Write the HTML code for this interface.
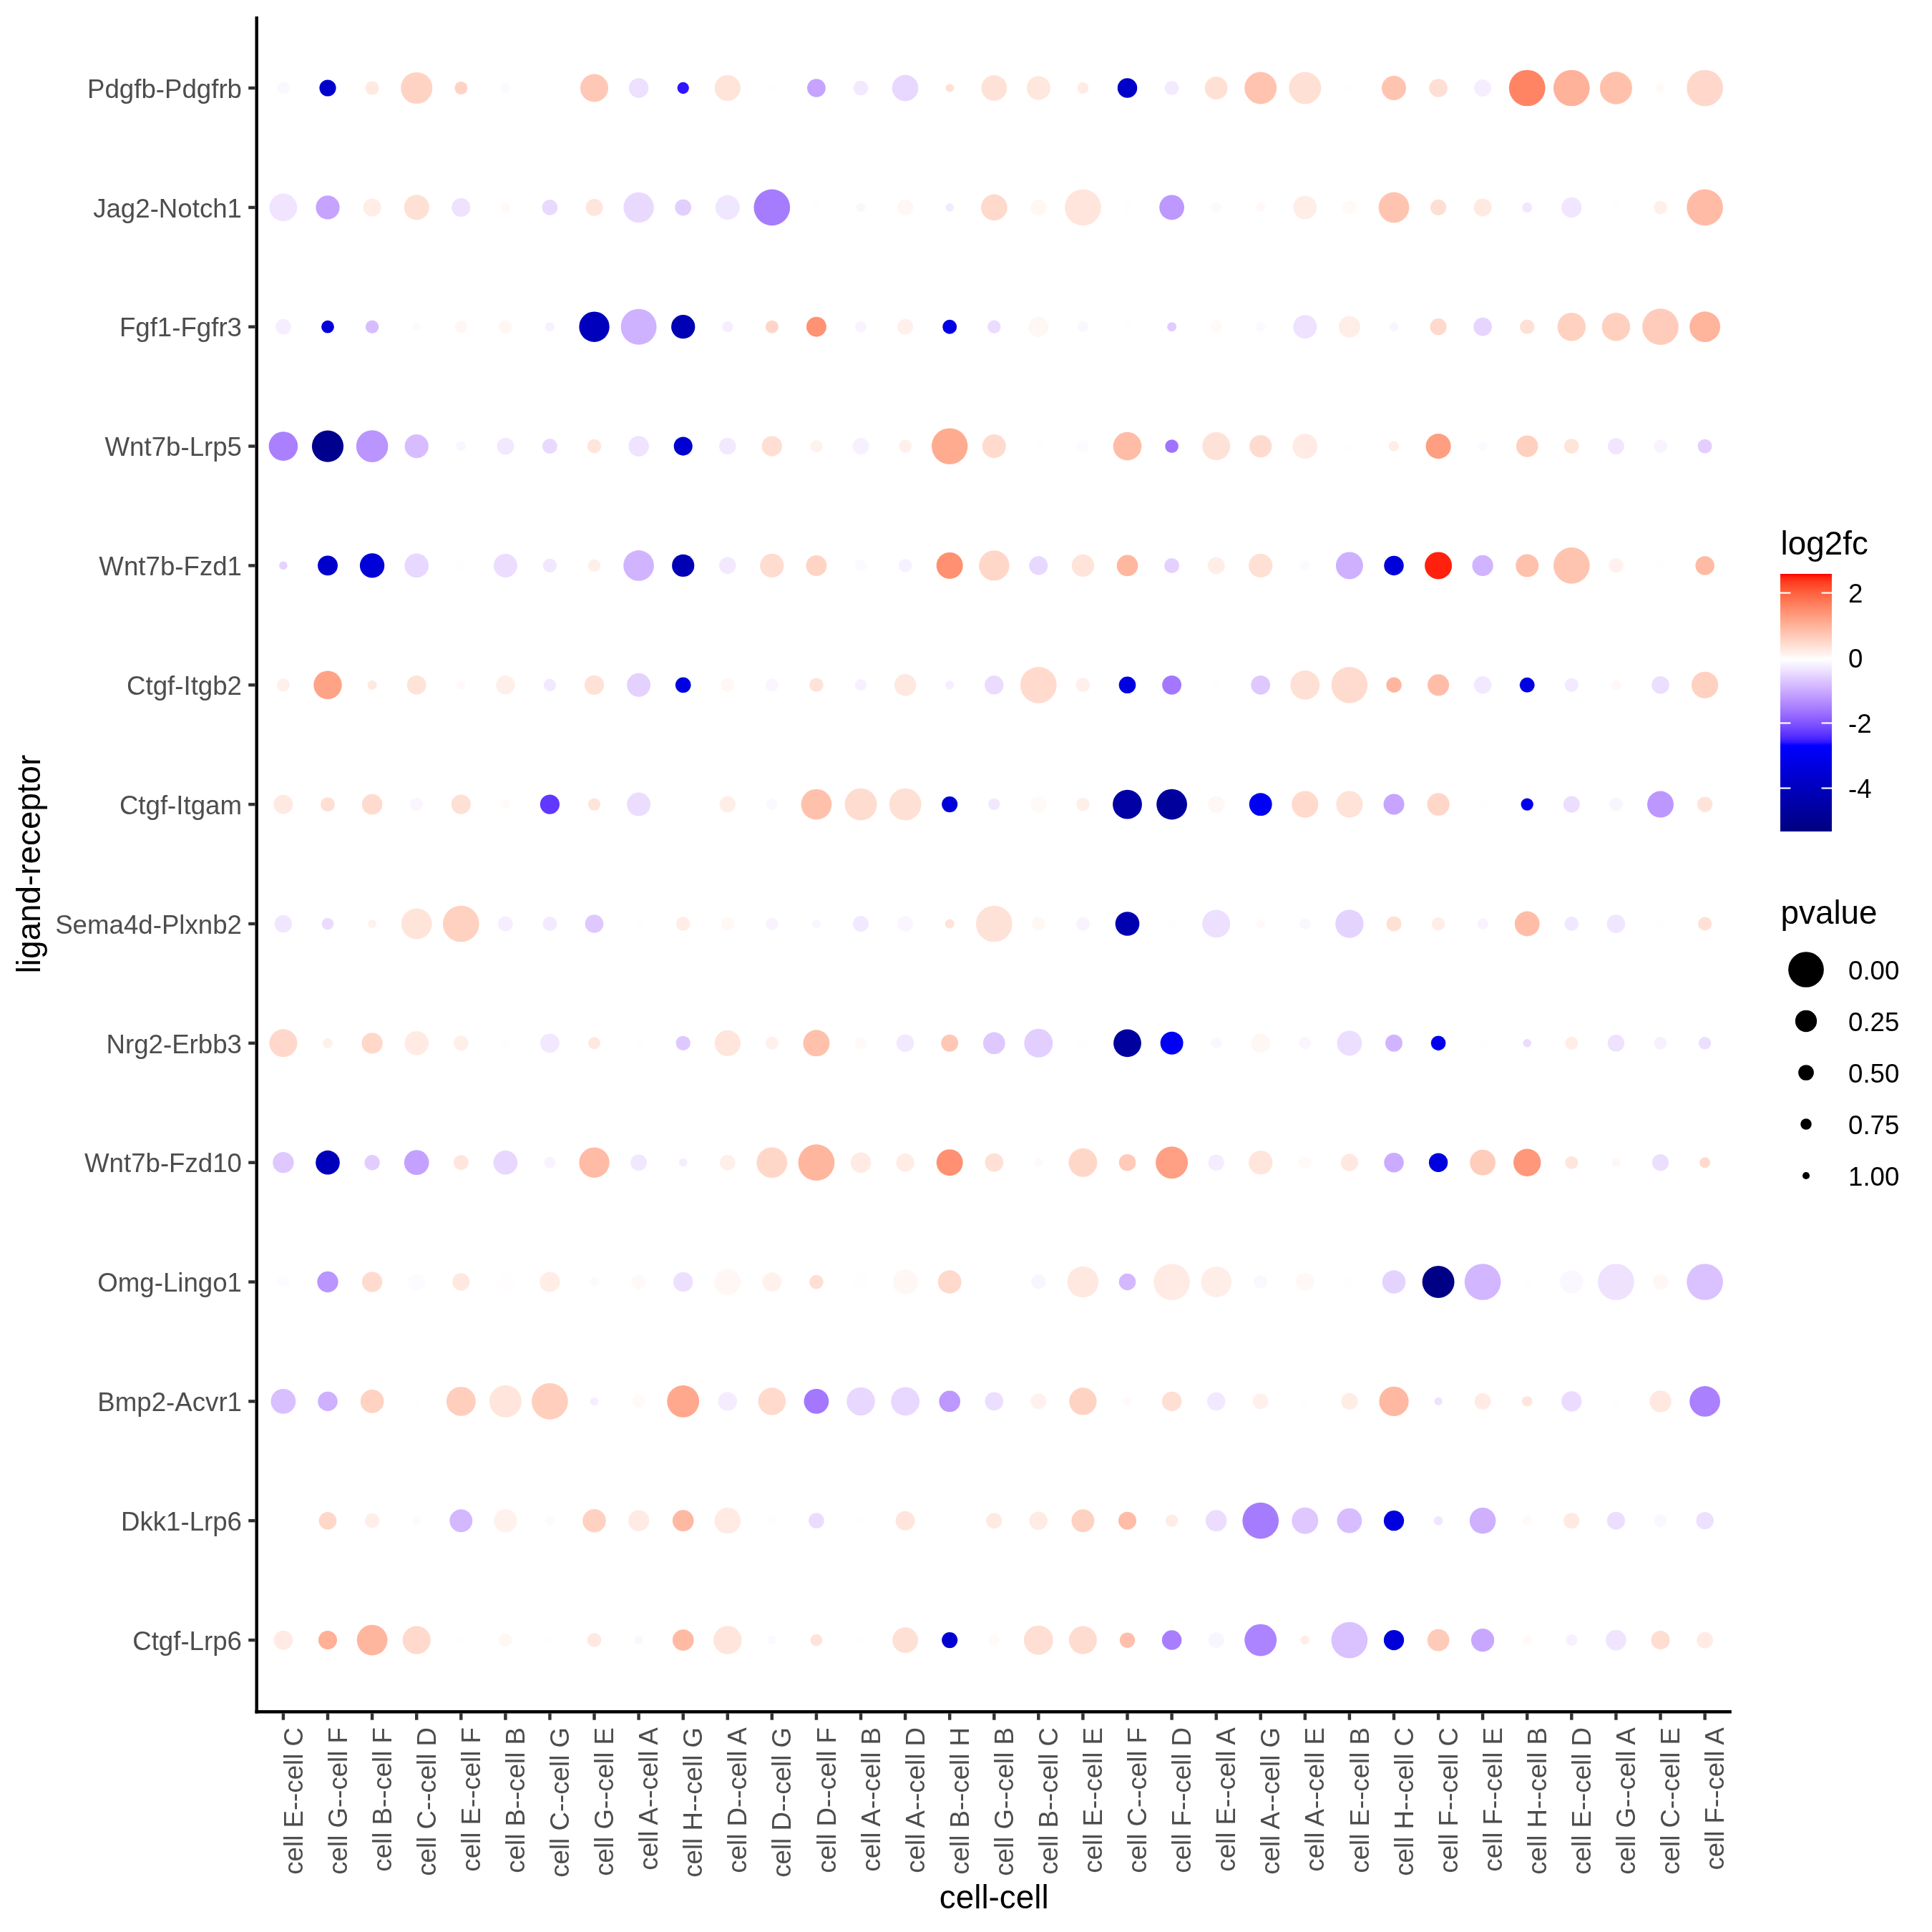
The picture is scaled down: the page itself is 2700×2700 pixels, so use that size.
<!DOCTYPE html>
<html><head><meta charset="utf-8"><title>plot</title><style>html,body{margin:0;padding:0;background:#fff}body{width:2700px;height:2700px;overflow:hidden}</style></head><body>
<svg width="2700" height="2700" viewBox="0 0 2700 2700" style="display:block;will-change:transform;font-family:'Liberation Sans',sans-serif">
<rect width="2700" height="2700" fill="#fff"/>
<g>
<circle cx="395.9" cy="123.0" r="8.70" fill="#FBF7FF"/>
<circle cx="458.0" cy="123.0" r="11.60" fill="#0000CD"/>
<circle cx="520.1" cy="123.0" r="9.60" fill="#FFE9E1"/>
<circle cx="582.2" cy="123.0" r="22.10" fill="#FFD3C4"/>
<circle cx="644.3" cy="123.0" r="9.05" fill="#FFD3C4"/>
<circle cx="706.4" cy="123.0" r="7.45" fill="#FCF9FF"/>
<circle cx="830.5" cy="123.0" r="19.55" fill="#FFC8B6"/>
<circle cx="892.6" cy="123.0" r="13.75" fill="#EDE0FF"/>
<circle cx="954.7" cy="123.0" r="8.15" fill="#2E14FF"/>
<circle cx="1016.8" cy="123.0" r="18.10" fill="#FFE4DA"/>
<circle cx="1078.8" cy="123.0" r="5.45" fill="#FFFDFD"/>
<circle cx="1140.9" cy="123.0" r="12.85" fill="#C5A3FF"/>
<circle cx="1203.0" cy="123.0" r="10.35" fill="#F2E8FF"/>
<circle cx="1265.1" cy="123.0" r="18.30" fill="#E8D7FF"/>
<circle cx="1327.2" cy="123.0" r="5.80" fill="#FFE0D5"/>
<circle cx="1389.3" cy="123.0" r="17.95" fill="#FFE2D7"/>
<circle cx="1451.3" cy="123.0" r="16.50" fill="#FFE7DE"/>
<circle cx="1513.4" cy="123.0" r="7.95" fill="#FFEBE4"/>
<circle cx="1575.5" cy="123.0" r="13.75" fill="#0000C8"/>
<circle cx="1637.6" cy="123.0" r="9.95" fill="#F3EAFF"/>
<circle cx="1699.7" cy="123.0" r="15.95" fill="#FFE0D4"/>
<circle cx="1761.7" cy="123.0" r="22.45" fill="#FFC3AF"/>
<circle cx="1823.8" cy="123.0" r="22.45" fill="#FFE0D4"/>
<circle cx="1885.9" cy="123.0" r="6.70" fill="#FFFEFE"/>
<circle cx="1948.0" cy="123.0" r="17.05" fill="#FFC4B0"/>
<circle cx="2010.1" cy="123.0" r="12.85" fill="#FFDED3"/>
<circle cx="2072.1" cy="123.0" r="11.95" fill="#F6EEFF"/>
<circle cx="2134.2" cy="123.0" r="25.35" fill="#FF8463"/>
<circle cx="2196.3" cy="123.0" r="25.35" fill="#FFB29A"/>
<circle cx="2258.4" cy="123.0" r="22.65" fill="#FFC1AC"/>
<circle cx="2320.5" cy="123.0" r="6.15" fill="#FFFAF8"/>
<circle cx="2382.6" cy="123.0" r="25.35" fill="#FFD8CB"/>
<circle cx="395.9" cy="289.9" r="19.40" fill="#F0E4FF"/>
<circle cx="458.0" cy="289.9" r="16.65" fill="#C5A3FF"/>
<circle cx="520.1" cy="289.9" r="12.50" fill="#FFEDE6"/>
<circle cx="582.2" cy="289.9" r="17.55" fill="#FFE0D4"/>
<circle cx="644.3" cy="289.9" r="13.05" fill="#EEE2FF"/>
<circle cx="706.4" cy="289.9" r="6.35" fill="#FFF8F5"/>
<circle cx="768.4" cy="289.9" r="10.85" fill="#E9D9FF"/>
<circle cx="830.5" cy="289.9" r="11.95" fill="#FFE5DC"/>
<circle cx="892.6" cy="289.9" r="21.20" fill="#E9D9FF"/>
<circle cx="954.7" cy="289.9" r="11.40" fill="#E2CEFF"/>
<circle cx="1016.8" cy="289.9" r="17.05" fill="#F1E6FF"/>
<circle cx="1078.8" cy="289.9" r="25.35" fill="#A67CFF"/>
<circle cx="1140.9" cy="289.9" r="5.80" fill="#FFFDFD"/>
<circle cx="1203.0" cy="289.9" r="6.35" fill="#FBF7FF"/>
<circle cx="1265.1" cy="289.9" r="11.05" fill="#FFF7F4"/>
<circle cx="1327.2" cy="289.9" r="5.80" fill="#F3EAFF"/>
<circle cx="1389.3" cy="289.9" r="18.30" fill="#FFD9CC"/>
<circle cx="1451.3" cy="289.9" r="11.25" fill="#FFF7F4"/>
<circle cx="1513.4" cy="289.9" r="25.35" fill="#FFE5DC"/>
<circle cx="1575.5" cy="289.9" r="7.05" fill="#FEFEFF"/>
<circle cx="1637.6" cy="289.9" r="17.40" fill="#BD98FF"/>
<circle cx="1699.7" cy="289.9" r="7.60" fill="#FFFAF8"/>
<circle cx="1761.7" cy="289.9" r="6.35" fill="#FFF8F5"/>
<circle cx="1823.8" cy="289.9" r="16.50" fill="#FFEEE8"/>
<circle cx="1885.9" cy="289.9" r="9.60" fill="#FFF9F7"/>
<circle cx="1948.0" cy="289.9" r="21.40" fill="#FFC4B0"/>
<circle cx="2010.1" cy="289.9" r="11.05" fill="#FFDED3"/>
<circle cx="2072.1" cy="289.9" r="12.50" fill="#FFE9E1"/>
<circle cx="2134.2" cy="289.9" r="7.05" fill="#F1E7FF"/>
<circle cx="2196.3" cy="289.9" r="14.15" fill="#F1E6FF"/>
<circle cx="2258.4" cy="289.9" r="6.00" fill="#FFFDFD"/>
<circle cx="2320.5" cy="289.9" r="9.40" fill="#FFEFE9"/>
<circle cx="2382.6" cy="289.9" r="25.35" fill="#FFBBA5"/>
<circle cx="395.9" cy="456.7" r="10.85" fill="#F6EEFF"/>
<circle cx="458.0" cy="456.7" r="8.90" fill="#0000DB"/>
<circle cx="520.1" cy="456.7" r="9.25" fill="#D7BDFF"/>
<circle cx="582.2" cy="456.7" r="5.80" fill="#FCF9FF"/>
<circle cx="644.3" cy="456.7" r="8.90" fill="#FFF7F4"/>
<circle cx="706.4" cy="456.7" r="9.60" fill="#FFF7F4"/>
<circle cx="768.4" cy="456.7" r="6.50" fill="#F7F1FF"/>
<circle cx="830.5" cy="456.7" r="21.20" fill="#0000BC"/>
<circle cx="892.6" cy="456.7" r="25.00" fill="#CFB2FF"/>
<circle cx="954.7" cy="456.7" r="16.65" fill="#0000B4"/>
<circle cx="1016.8" cy="456.7" r="7.60" fill="#F6EEFF"/>
<circle cx="1078.8" cy="456.7" r="9.05" fill="#FFD5C7"/>
<circle cx="1140.9" cy="456.7" r="13.95" fill="#FF9273"/>
<circle cx="1203.0" cy="456.7" r="7.80" fill="#F8F3FF"/>
<circle cx="1265.1" cy="456.7" r="11.05" fill="#FFF0EB"/>
<circle cx="1327.2" cy="456.7" r="9.95" fill="#0000E3"/>
<circle cx="1389.3" cy="456.7" r="9.25" fill="#EBDCFF"/>
<circle cx="1451.3" cy="456.7" r="14.15" fill="#FFF7F4"/>
<circle cx="1513.4" cy="456.7" r="7.60" fill="#FBF7FF"/>
<circle cx="1575.5" cy="456.7" r="6.70" fill="#FEFEFF"/>
<circle cx="1637.6" cy="456.7" r="6.50" fill="#E1CCFF"/>
<circle cx="1699.7" cy="456.7" r="8.35" fill="#FFF9F7"/>
<circle cx="1761.7" cy="456.7" r="6.90" fill="#FCF9FF"/>
<circle cx="1823.8" cy="456.7" r="16.50" fill="#EEE2FF"/>
<circle cx="1885.9" cy="456.7" r="15.05" fill="#FFEEE8"/>
<circle cx="1948.0" cy="456.7" r="6.50" fill="#F9F5FF"/>
<circle cx="2010.1" cy="456.7" r="11.60" fill="#FFD9CC"/>
<circle cx="2072.1" cy="456.7" r="12.85" fill="#E7D5FF"/>
<circle cx="2134.2" cy="456.7" r="10.15" fill="#FFE0D5"/>
<circle cx="2196.3" cy="456.7" r="19.75" fill="#FFD1C1"/>
<circle cx="2258.4" cy="456.7" r="19.75" fill="#FFD0BF"/>
<circle cx="2320.5" cy="456.7" r="25.35" fill="#FFCCBB"/>
<circle cx="2382.6" cy="456.7" r="21.40" fill="#FFB49C"/>
<circle cx="395.9" cy="623.6" r="20.30" fill="#AA80FF"/>
<circle cx="458.0" cy="623.6" r="22.10" fill="#00008F"/>
<circle cx="520.1" cy="623.6" r="22.30" fill="#BA94FF"/>
<circle cx="582.2" cy="623.6" r="16.65" fill="#D7BDFF"/>
<circle cx="644.3" cy="623.6" r="6.90" fill="#FAF5FF"/>
<circle cx="706.4" cy="623.6" r="11.95" fill="#F2E8FF"/>
<circle cx="768.4" cy="623.6" r="10.50" fill="#E9D9FF"/>
<circle cx="830.5" cy="623.6" r="9.80" fill="#FFE5DC"/>
<circle cx="892.6" cy="623.6" r="14.30" fill="#EFE3FF"/>
<circle cx="954.7" cy="623.6" r="13.05" fill="#0000D2"/>
<circle cx="1016.8" cy="623.6" r="11.80" fill="#F2E9FF"/>
<circle cx="1078.8" cy="623.6" r="14.15" fill="#FFDED3"/>
<circle cx="1140.9" cy="623.6" r="8.70" fill="#FFF2EE"/>
<circle cx="1203.0" cy="623.6" r="11.60" fill="#F7F1FF"/>
<circle cx="1265.1" cy="623.6" r="9.05" fill="#FFF0EB"/>
<circle cx="1327.2" cy="623.6" r="25.20" fill="#FFAB90"/>
<circle cx="1389.3" cy="623.6" r="16.50" fill="#FFDBCE"/>
<circle cx="1451.3" cy="623.6" r="6.50" fill="#FFFDFD"/>
<circle cx="1513.4" cy="623.6" r="8.70" fill="#FDFBFF"/>
<circle cx="1575.5" cy="623.6" r="19.75" fill="#FFBCA6"/>
<circle cx="1637.6" cy="623.6" r="9.40" fill="#9F73FF"/>
<circle cx="1699.7" cy="623.6" r="19.55" fill="#FFE2D7"/>
<circle cx="1761.7" cy="623.6" r="15.60" fill="#FFDBCF"/>
<circle cx="1823.8" cy="623.6" r="17.40" fill="#FFEBE3"/>
<circle cx="1885.9" cy="623.6" r="6.70" fill="#FFFEFE"/>
<circle cx="1948.0" cy="623.6" r="7.25" fill="#FFEDE6"/>
<circle cx="2010.1" cy="623.6" r="17.55" fill="#FF9E81"/>
<circle cx="2072.1" cy="623.6" r="6.90" fill="#FCF9FF"/>
<circle cx="2134.2" cy="623.6" r="15.20" fill="#FFD0BF"/>
<circle cx="2196.3" cy="623.6" r="10.35" fill="#FFE4DA"/>
<circle cx="2258.4" cy="623.6" r="11.40" fill="#F1E6FF"/>
<circle cx="2320.5" cy="623.6" r="9.40" fill="#F8F3FF"/>
<circle cx="2382.6" cy="623.6" r="9.95" fill="#E2CEFF"/>
<circle cx="395.9" cy="790.4" r="5.80" fill="#E5D3FF"/>
<circle cx="458.0" cy="790.4" r="13.95" fill="#0000CD"/>
<circle cx="520.1" cy="790.4" r="17.20" fill="#0000D9"/>
<circle cx="582.2" cy="790.4" r="16.85" fill="#E8D7FF"/>
<circle cx="644.3" cy="790.4" r="7.05" fill="#FFFDFD"/>
<circle cx="706.4" cy="790.4" r="16.50" fill="#ECDDFF"/>
<circle cx="768.4" cy="790.4" r="9.60" fill="#F1E7FF"/>
<circle cx="830.5" cy="790.4" r="8.70" fill="#FFEFE9"/>
<circle cx="892.6" cy="790.4" r="21.40" fill="#D1B4FF"/>
<circle cx="954.7" cy="790.4" r="15.60" fill="#0000B4"/>
<circle cx="1016.8" cy="790.4" r="11.80" fill="#F2E9FF"/>
<circle cx="1078.8" cy="790.4" r="16.65" fill="#FFDCD0"/>
<circle cx="1140.9" cy="790.4" r="14.50" fill="#FFD4C5"/>
<circle cx="1203.0" cy="790.4" r="8.15" fill="#FCF9FF"/>
<circle cx="1265.1" cy="790.4" r="9.40" fill="#F7F1FF"/>
<circle cx="1327.2" cy="790.4" r="18.50" fill="#FF9071"/>
<circle cx="1389.3" cy="790.4" r="21.20" fill="#FFD7C9"/>
<circle cx="1451.3" cy="790.4" r="13.05" fill="#E8D7FF"/>
<circle cx="1513.4" cy="790.4" r="15.60" fill="#FFE4DA"/>
<circle cx="1575.5" cy="790.4" r="14.85" fill="#FFB7A0"/>
<circle cx="1637.6" cy="790.4" r="10.50" fill="#E4D1FF"/>
<circle cx="1699.7" cy="790.4" r="11.95" fill="#FFEEE8"/>
<circle cx="1761.7" cy="790.4" r="16.65" fill="#FFE0D5"/>
<circle cx="1823.8" cy="790.4" r="7.25" fill="#FCF9FF"/>
<circle cx="1885.9" cy="790.4" r="19.00" fill="#CEB0FF"/>
<circle cx="1948.0" cy="790.4" r="13.75" fill="#0000DB"/>
<circle cx="2010.1" cy="790.4" r="19.00" fill="#FF200D"/>
<circle cx="2072.1" cy="790.4" r="14.65" fill="#D1B4FF"/>
<circle cx="2134.2" cy="790.4" r="15.95" fill="#FFC1AC"/>
<circle cx="2196.3" cy="790.4" r="25.35" fill="#FFC4B0"/>
<circle cx="2258.4" cy="790.4" r="10.35" fill="#FFF2EE"/>
<circle cx="2320.5" cy="790.4" r="6.35" fill="#FEFEFF"/>
<circle cx="2382.6" cy="790.4" r="13.20" fill="#FFBAA3"/>
<circle cx="395.9" cy="957.3" r="9.05" fill="#FFF0EB"/>
<circle cx="458.0" cy="957.3" r="19.75" fill="#FFA387"/>
<circle cx="520.1" cy="957.3" r="6.50" fill="#FFE8DF"/>
<circle cx="582.2" cy="957.3" r="13.40" fill="#FFE3D9"/>
<circle cx="644.3" cy="957.3" r="6.50" fill="#FFF9F7"/>
<circle cx="706.4" cy="957.3" r="13.20" fill="#FFEFE9"/>
<circle cx="768.4" cy="957.3" r="8.70" fill="#F2E8FF"/>
<circle cx="830.5" cy="957.3" r="13.60" fill="#FFE1D6"/>
<circle cx="892.6" cy="957.3" r="16.50" fill="#E4D1FF"/>
<circle cx="954.7" cy="957.3" r="10.85" fill="#0000E0"/>
<circle cx="1016.8" cy="957.3" r="9.60" fill="#FFF7F4"/>
<circle cx="1078.8" cy="957.3" r="9.05" fill="#FAF5FF"/>
<circle cx="1140.9" cy="957.3" r="9.80" fill="#FFE3D8"/>
<circle cx="1203.0" cy="957.3" r="8.15" fill="#F7F1FF"/>
<circle cx="1265.1" cy="957.3" r="15.20" fill="#FFE8DF"/>
<circle cx="1327.2" cy="957.3" r="6.15" fill="#F6EEFF"/>
<circle cx="1389.3" cy="957.3" r="13.20" fill="#EBDCFF"/>
<circle cx="1451.3" cy="957.3" r="25.35" fill="#FFDACD"/>
<circle cx="1513.4" cy="957.3" r="9.95" fill="#FFF0EB"/>
<circle cx="1575.5" cy="957.3" r="11.80" fill="#0000E0"/>
<circle cx="1637.6" cy="957.3" r="13.40" fill="#A378FF"/>
<circle cx="1699.7" cy="957.3" r="7.45" fill="#FFFDFD"/>
<circle cx="1761.7" cy="957.3" r="13.40" fill="#DEC8FF"/>
<circle cx="1823.8" cy="957.3" r="20.45" fill="#FFE0D4"/>
<circle cx="1885.9" cy="957.3" r="25.35" fill="#FFDBCF"/>
<circle cx="1948.0" cy="957.3" r="10.70" fill="#FFB69E"/>
<circle cx="2010.1" cy="957.3" r="15.05" fill="#FFBDA8"/>
<circle cx="2072.1" cy="957.3" r="12.30" fill="#F2E9FF"/>
<circle cx="2134.2" cy="957.3" r="10.50" fill="#0000E0"/>
<circle cx="2196.3" cy="957.3" r="9.60" fill="#F3EAFF"/>
<circle cx="2258.4" cy="957.3" r="6.90" fill="#FFF8F5"/>
<circle cx="2320.5" cy="957.3" r="12.30" fill="#ECDEFF"/>
<circle cx="2382.6" cy="957.3" r="18.65" fill="#FFD1C1"/>
<circle cx="395.9" cy="1124.1" r="13.40" fill="#FFE9E1"/>
<circle cx="458.0" cy="1124.1" r="9.95" fill="#FFDED3"/>
<circle cx="520.1" cy="1124.1" r="14.30" fill="#FFDBCF"/>
<circle cx="582.2" cy="1124.1" r="9.05" fill="#FAF5FF"/>
<circle cx="644.3" cy="1124.1" r="13.60" fill="#FFE0D5"/>
<circle cx="706.4" cy="1124.1" r="6.15" fill="#FFFAF8"/>
<circle cx="768.4" cy="1124.1" r="13.60" fill="#6138FF"/>
<circle cx="830.5" cy="1124.1" r="8.70" fill="#FFE4DA"/>
<circle cx="892.6" cy="1124.1" r="16.50" fill="#ECDDFF"/>
<circle cx="1016.8" cy="1124.1" r="11.25" fill="#FFEEE8"/>
<circle cx="1078.8" cy="1124.1" r="7.60" fill="#FBF7FF"/>
<circle cx="1140.9" cy="1124.1" r="21.40" fill="#FFC1AC"/>
<circle cx="1203.0" cy="1124.1" r="22.45" fill="#FFDCD0"/>
<circle cx="1265.1" cy="1124.1" r="22.45" fill="#FFE0D5"/>
<circle cx="1327.2" cy="1124.1" r="11.05" fill="#0000DB"/>
<circle cx="1389.3" cy="1124.1" r="8.15" fill="#F1E7FF"/>
<circle cx="1451.3" cy="1124.1" r="11.25" fill="#FFFAF8"/>
<circle cx="1513.4" cy="1124.1" r="9.25" fill="#FFEFE9"/>
<circle cx="1575.5" cy="1124.1" r="20.45" fill="#0000A4"/>
<circle cx="1637.6" cy="1124.1" r="21.40" fill="#00009D"/>
<circle cx="1699.7" cy="1124.1" r="11.60" fill="#FFF7F4"/>
<circle cx="1761.7" cy="1124.1" r="15.95" fill="#0000F4"/>
<circle cx="1823.8" cy="1124.1" r="18.65" fill="#FFDACD"/>
<circle cx="1885.9" cy="1124.1" r="18.65" fill="#FFE3D8"/>
<circle cx="1948.0" cy="1124.1" r="14.50" fill="#C6A4FF"/>
<circle cx="2010.1" cy="1124.1" r="15.75" fill="#FFD7C9"/>
<circle cx="2072.1" cy="1124.1" r="6.35" fill="#FFFDFD"/>
<circle cx="2134.2" cy="1124.1" r="8.70" fill="#0000EF"/>
<circle cx="2196.3" cy="1124.1" r="11.60" fill="#ECDEFF"/>
<circle cx="2258.4" cy="1124.1" r="9.40" fill="#F9F5FF"/>
<circle cx="2320.5" cy="1124.1" r="18.50" fill="#BC97FF"/>
<circle cx="2382.6" cy="1124.1" r="10.70" fill="#FFE3D9"/>
<circle cx="395.9" cy="1291.0" r="12.30" fill="#F1E6FF"/>
<circle cx="458.0" cy="1291.0" r="8.35" fill="#EBDCFF"/>
<circle cx="520.1" cy="1291.0" r="6.00" fill="#FFF2ED"/>
<circle cx="582.2" cy="1291.0" r="21.40" fill="#FFE4DA"/>
<circle cx="644.3" cy="1291.0" r="25.35" fill="#FFD1C1"/>
<circle cx="706.4" cy="1291.0" r="10.50" fill="#F6EEFF"/>
<circle cx="768.4" cy="1291.0" r="9.95" fill="#F3EAFF"/>
<circle cx="830.5" cy="1291.0" r="12.85" fill="#DEC8FF"/>
<circle cx="892.6" cy="1291.0" r="6.00" fill="#FFFDFD"/>
<circle cx="954.7" cy="1291.0" r="9.80" fill="#FFEDE6"/>
<circle cx="1016.8" cy="1291.0" r="9.60" fill="#FFF8F5"/>
<circle cx="1078.8" cy="1291.0" r="8.70" fill="#F8F3FF"/>
<circle cx="1140.9" cy="1291.0" r="6.15" fill="#FAF5FF"/>
<circle cx="1203.0" cy="1291.0" r="11.05" fill="#F2E8FF"/>
<circle cx="1265.1" cy="1291.0" r="10.85" fill="#FAF5FF"/>
<circle cx="1327.2" cy="1291.0" r="6.50" fill="#FFE3D8"/>
<circle cx="1389.3" cy="1291.0" r="25.35" fill="#FFE2D7"/>
<circle cx="1451.3" cy="1291.0" r="9.40" fill="#FFF7F4"/>
<circle cx="1513.4" cy="1291.0" r="9.60" fill="#F8F3FF"/>
<circle cx="1575.5" cy="1291.0" r="16.85" fill="#0000B0"/>
<circle cx="1637.6" cy="1291.0" r="6.90" fill="#FFFEFE"/>
<circle cx="1699.7" cy="1291.0" r="19.55" fill="#EDE0FF"/>
<circle cx="1761.7" cy="1291.0" r="6.50" fill="#FFF9F7"/>
<circle cx="1823.8" cy="1291.0" r="7.80" fill="#FBF7FF"/>
<circle cx="1885.9" cy="1291.0" r="19.75" fill="#E5D3FF"/>
<circle cx="1948.0" cy="1291.0" r="10.50" fill="#FFE0D4"/>
<circle cx="2010.1" cy="1291.0" r="9.25" fill="#FFEDE6"/>
<circle cx="2072.1" cy="1291.0" r="7.80" fill="#F8F3FF"/>
<circle cx="2134.2" cy="1291.0" r="17.40" fill="#FFBDA8"/>
<circle cx="2196.3" cy="1291.0" r="9.95" fill="#F1E7FF"/>
<circle cx="2258.4" cy="1291.0" r="12.85" fill="#F1E6FF"/>
<circle cx="2320.5" cy="1291.0" r="6.50" fill="#FFFEFE"/>
<circle cx="2382.6" cy="1291.0" r="9.60" fill="#FFE0D4"/>
<circle cx="395.9" cy="1457.8" r="19.55" fill="#FFD8CB"/>
<circle cx="458.0" cy="1457.8" r="6.90" fill="#FFF0EA"/>
<circle cx="520.1" cy="1457.8" r="14.65" fill="#FFD8CA"/>
<circle cx="582.2" cy="1457.8" r="16.85" fill="#FFEBE3"/>
<circle cx="644.3" cy="1457.8" r="10.50" fill="#FFEFE9"/>
<circle cx="706.4" cy="1457.8" r="6.70" fill="#FFFDFD"/>
<circle cx="768.4" cy="1457.8" r="13.40" fill="#F2E8FF"/>
<circle cx="830.5" cy="1457.8" r="8.50" fill="#FFE8E0"/>
<circle cx="892.6" cy="1457.8" r="6.35" fill="#FFFDFD"/>
<circle cx="954.7" cy="1457.8" r="10.15" fill="#DEC8FF"/>
<circle cx="1016.8" cy="1457.8" r="18.10" fill="#FFE5DC"/>
<circle cx="1078.8" cy="1457.8" r="9.05" fill="#FFF0EB"/>
<circle cx="1140.9" cy="1457.8" r="18.50" fill="#FFC1AC"/>
<circle cx="1203.0" cy="1457.8" r="8.50" fill="#FFF9F7"/>
<circle cx="1265.1" cy="1457.8" r="12.30" fill="#F2E9FF"/>
<circle cx="1327.2" cy="1457.8" r="11.95" fill="#FFC7B4"/>
<circle cx="1389.3" cy="1457.8" r="15.40" fill="#DEC8FF"/>
<circle cx="1451.3" cy="1457.8" r="19.95" fill="#E2CEFF"/>
<circle cx="1513.4" cy="1457.8" r="7.25" fill="#FEFEFF"/>
<circle cx="1575.5" cy="1457.8" r="19.40" fill="#00009F"/>
<circle cx="1637.6" cy="1457.8" r="15.95" fill="#0000F6"/>
<circle cx="1699.7" cy="1457.8" r="7.80" fill="#FBF7FF"/>
<circle cx="1761.7" cy="1457.8" r="13.40" fill="#FFF7F4"/>
<circle cx="1823.8" cy="1457.8" r="8.50" fill="#FAF5FF"/>
<circle cx="1885.9" cy="1457.8" r="17.40" fill="#ECDEFF"/>
<circle cx="1948.0" cy="1457.8" r="11.95" fill="#D1B4FF"/>
<circle cx="2010.1" cy="1457.8" r="10.35" fill="#0000EF"/>
<circle cx="2072.1" cy="1457.8" r="6.15" fill="#FFFDFD"/>
<circle cx="2134.2" cy="1457.8" r="5.80" fill="#EBDCFF"/>
<circle cx="2196.3" cy="1457.8" r="9.05" fill="#FFEDE6"/>
<circle cx="2258.4" cy="1457.8" r="11.80" fill="#EEE2FF"/>
<circle cx="2320.5" cy="1457.8" r="9.05" fill="#F7F1FF"/>
<circle cx="2382.6" cy="1457.8" r="8.70" fill="#ECDEFF"/>
<circle cx="395.9" cy="1624.7" r="14.65" fill="#DEC8FF"/>
<circle cx="458.0" cy="1624.7" r="16.85" fill="#0000BC"/>
<circle cx="520.1" cy="1624.7" r="10.70" fill="#E1CDFF"/>
<circle cx="582.2" cy="1624.7" r="17.40" fill="#C4A1FF"/>
<circle cx="644.3" cy="1624.7" r="10.50" fill="#FFE5DC"/>
<circle cx="706.4" cy="1624.7" r="16.85" fill="#E8D7FF"/>
<circle cx="768.4" cy="1624.7" r="7.95" fill="#F8F3FF"/>
<circle cx="830.5" cy="1624.7" r="21.20" fill="#FFBBA5"/>
<circle cx="892.6" cy="1624.7" r="11.40" fill="#F1E7FF"/>
<circle cx="954.7" cy="1624.7" r="5.80" fill="#F4ECFF"/>
<circle cx="1016.8" cy="1624.7" r="10.85" fill="#FFEFE9"/>
<circle cx="1078.8" cy="1624.7" r="21.40" fill="#FFD7C9"/>
<circle cx="1140.9" cy="1624.7" r="25.35" fill="#FFB69E"/>
<circle cx="1203.0" cy="1624.7" r="14.30" fill="#FFEBE3"/>
<circle cx="1265.1" cy="1624.7" r="12.70" fill="#FFECE5"/>
<circle cx="1327.2" cy="1624.7" r="18.50" fill="#FF9172"/>
<circle cx="1389.3" cy="1624.7" r="12.85" fill="#FFE0D5"/>
<circle cx="1451.3" cy="1624.7" r="5.80" fill="#FFF9F7"/>
<circle cx="1513.4" cy="1624.7" r="19.95" fill="#FFD7C9"/>
<circle cx="1575.5" cy="1624.7" r="11.80" fill="#FFCAB8"/>
<circle cx="1637.6" cy="1624.7" r="22.45" fill="#FF9F83"/>
<circle cx="1699.7" cy="1624.7" r="11.25" fill="#F5EDFF"/>
<circle cx="1761.7" cy="1624.7" r="16.65" fill="#FFE5DB"/>
<circle cx="1823.8" cy="1624.7" r="8.70" fill="#FFF9F7"/>
<circle cx="1885.9" cy="1624.7" r="12.15" fill="#FFE8DF"/>
<circle cx="1948.0" cy="1624.7" r="13.75" fill="#CBABFF"/>
<circle cx="2010.1" cy="1624.7" r="13.20" fill="#0000DE"/>
<circle cx="2072.1" cy="1624.7" r="17.95" fill="#FFCDBC"/>
<circle cx="2134.2" cy="1624.7" r="19.20" fill="#FF977A"/>
<circle cx="2196.3" cy="1624.7" r="9.05" fill="#FFE5DB"/>
<circle cx="2258.4" cy="1624.7" r="6.00" fill="#FFF7F4"/>
<circle cx="2320.5" cy="1624.7" r="11.60" fill="#ECDEFF"/>
<circle cx="2382.6" cy="1624.7" r="7.45" fill="#FFD9CC"/>
<circle cx="395.9" cy="1791.5" r="8.35" fill="#FDFBFF"/>
<circle cx="458.0" cy="1791.5" r="14.65" fill="#BA94FF"/>
<circle cx="520.1" cy="1791.5" r="14.15" fill="#FFDBCF"/>
<circle cx="582.2" cy="1791.5" r="12.30" fill="#FDFBFF"/>
<circle cx="644.3" cy="1791.5" r="12.15" fill="#FFE8DF"/>
<circle cx="706.4" cy="1791.5" r="12.15" fill="#FFFDFD"/>
<circle cx="768.4" cy="1791.5" r="14.15" fill="#FFEDE6"/>
<circle cx="830.5" cy="1791.5" r="6.35" fill="#FCF9FF"/>
<circle cx="892.6" cy="1791.5" r="10.35" fill="#FFF9F7"/>
<circle cx="954.7" cy="1791.5" r="13.75" fill="#EDE0FF"/>
<circle cx="1016.8" cy="1791.5" r="18.30" fill="#FFF7F4"/>
<circle cx="1078.8" cy="1791.5" r="13.40" fill="#FFF2ED"/>
<circle cx="1140.9" cy="1791.5" r="9.80" fill="#FFDED3"/>
<circle cx="1203.0" cy="1791.5" r="11.40" fill="#FEFDFF"/>
<circle cx="1265.1" cy="1791.5" r="17.40" fill="#FFF7F4"/>
<circle cx="1327.2" cy="1791.5" r="16.30" fill="#FFD9CC"/>
<circle cx="1451.3" cy="1791.5" r="10.15" fill="#F9F5FF"/>
<circle cx="1513.4" cy="1791.5" r="21.75" fill="#FFE8DF"/>
<circle cx="1575.5" cy="1791.5" r="11.80" fill="#D4B8FF"/>
<circle cx="1637.6" cy="1791.5" r="25.35" fill="#FFEBE4"/>
<circle cx="1699.7" cy="1791.5" r="21.40" fill="#FFEEE8"/>
<circle cx="1761.7" cy="1791.5" r="9.40" fill="#FBF7FF"/>
<circle cx="1823.8" cy="1791.5" r="12.70" fill="#FFF8F5"/>
<circle cx="1885.9" cy="1791.5" r="6.70" fill="#FFFEFE"/>
<circle cx="1948.0" cy="1791.5" r="16.30" fill="#E5D3FF"/>
<circle cx="2010.1" cy="1791.5" r="22.45" fill="#000086"/>
<circle cx="2072.1" cy="1791.5" r="25.35" fill="#D2B6FF"/>
<circle cx="2134.2" cy="1791.5" r="6.15" fill="#FFFEFE"/>
<circle cx="2196.3" cy="1791.5" r="16.30" fill="#FBF7FF"/>
<circle cx="2258.4" cy="1791.5" r="25.35" fill="#EEE2FF"/>
<circle cx="2320.5" cy="1791.5" r="10.85" fill="#FFF7F4"/>
<circle cx="2382.6" cy="1791.5" r="25.35" fill="#DAC1FF"/>
<circle cx="395.9" cy="1958.4" r="17.40" fill="#D8BFFF"/>
<circle cx="458.0" cy="1958.4" r="13.75" fill="#CEB0FF"/>
<circle cx="520.1" cy="1958.4" r="16.30" fill="#FFD2C2"/>
<circle cx="582.2" cy="1958.4" r="5.05" fill="#FFFEFE"/>
<circle cx="644.3" cy="1958.4" r="20.45" fill="#FFCEBD"/>
<circle cx="706.4" cy="1958.4" r="22.45" fill="#FFE5DB"/>
<circle cx="768.4" cy="1958.4" r="25.35" fill="#FFCEBD"/>
<circle cx="830.5" cy="1958.4" r="6.00" fill="#F6EEFF"/>
<circle cx="892.6" cy="1958.4" r="8.90" fill="#FFFAF8"/>
<circle cx="954.7" cy="1958.4" r="22.45" fill="#FFA88E"/>
<circle cx="1016.8" cy="1958.4" r="13.20" fill="#F5EDFF"/>
<circle cx="1078.8" cy="1958.4" r="19.20" fill="#FFDACD"/>
<circle cx="1140.9" cy="1958.4" r="17.40" fill="#A378FF"/>
<circle cx="1203.0" cy="1958.4" r="19.75" fill="#E8D7FF"/>
<circle cx="1265.1" cy="1958.4" r="19.95" fill="#E8D7FF"/>
<circle cx="1327.2" cy="1958.4" r="14.85" fill="#BD98FF"/>
<circle cx="1389.3" cy="1958.4" r="12.85" fill="#ECDEFF"/>
<circle cx="1451.3" cy="1958.4" r="11.25" fill="#FFF2EE"/>
<circle cx="1513.4" cy="1958.4" r="19.20" fill="#FFD3C4"/>
<circle cx="1575.5" cy="1958.4" r="6.00" fill="#FFF9F7"/>
<circle cx="1637.6" cy="1958.4" r="13.75" fill="#FFDED3"/>
<circle cx="1699.7" cy="1958.4" r="12.70" fill="#F2E8FF"/>
<circle cx="1761.7" cy="1958.4" r="10.85" fill="#FFF0EB"/>
<circle cx="1823.8" cy="1958.4" r="7.25" fill="#FFFEFE"/>
<circle cx="1885.9" cy="1958.4" r="11.60" fill="#FFECE5"/>
<circle cx="1948.0" cy="1958.4" r="20.65" fill="#FFB8A1"/>
<circle cx="2010.1" cy="1958.4" r="5.60" fill="#EEE2FF"/>
<circle cx="2072.1" cy="1958.4" r="11.40" fill="#FFEBE3"/>
<circle cx="2134.2" cy="1958.4" r="7.25" fill="#FFE5DC"/>
<circle cx="2196.3" cy="1958.4" r="14.15" fill="#EBDCFF"/>
<circle cx="2258.4" cy="1958.4" r="6.00" fill="#FFFDFD"/>
<circle cx="2320.5" cy="1958.4" r="15.20" fill="#FFE8E0"/>
<circle cx="2382.6" cy="1958.4" r="21.40" fill="#AA80FF"/>
<circle cx="395.9" cy="2125.2" r="6.90" fill="#FFFFFF"/>
<circle cx="458.0" cy="2125.2" r="12.30" fill="#FFD7C9"/>
<circle cx="520.1" cy="2125.2" r="10.35" fill="#FFEEE8"/>
<circle cx="582.2" cy="2125.2" r="5.80" fill="#FCF9FF"/>
<circle cx="644.3" cy="2125.2" r="15.95" fill="#D3B7FF"/>
<circle cx="706.4" cy="2125.2" r="16.30" fill="#FFF2ED"/>
<circle cx="768.4" cy="2125.2" r="6.50" fill="#FCF9FF"/>
<circle cx="830.5" cy="2125.2" r="16.30" fill="#FFD1C1"/>
<circle cx="892.6" cy="2125.2" r="14.65" fill="#FFEBE4"/>
<circle cx="954.7" cy="2125.2" r="14.85" fill="#FFB8A1"/>
<circle cx="1016.8" cy="2125.2" r="18.30" fill="#FFEBE4"/>
<circle cx="1078.8" cy="2125.2" r="6.90" fill="#FDFCFF"/>
<circle cx="1140.9" cy="2125.2" r="10.85" fill="#EBDCFF"/>
<circle cx="1203.0" cy="2125.2" r="6.35" fill="#FFFEFE"/>
<circle cx="1265.1" cy="2125.2" r="13.40" fill="#FFE5DC"/>
<circle cx="1389.3" cy="2125.2" r="11.05" fill="#FFEAE2"/>
<circle cx="1451.3" cy="2125.2" r="12.70" fill="#FFEBE3"/>
<circle cx="1513.4" cy="2125.2" r="15.95" fill="#FFD1C1"/>
<circle cx="1575.5" cy="2125.2" r="12.50" fill="#FFBCA6"/>
<circle cx="1637.6" cy="2125.2" r="8.70" fill="#FFECE5"/>
<circle cx="1699.7" cy="2125.2" r="14.85" fill="#ECDDFF"/>
<circle cx="1761.7" cy="2125.2" r="25.35" fill="#A67CFF"/>
<circle cx="1823.8" cy="2125.2" r="18.50" fill="#DEC8FF"/>
<circle cx="1885.9" cy="2125.2" r="17.40" fill="#D7BDFF"/>
<circle cx="1948.0" cy="2125.2" r="14.15" fill="#0000DE"/>
<circle cx="2010.1" cy="2125.2" r="6.35" fill="#F1E6FF"/>
<circle cx="2072.1" cy="2125.2" r="18.30" fill="#CEB0FF"/>
<circle cx="2134.2" cy="2125.2" r="6.90" fill="#FFF9F7"/>
<circle cx="2196.3" cy="2125.2" r="11.05" fill="#FFE9E1"/>
<circle cx="2258.4" cy="2125.2" r="12.50" fill="#ECDEFF"/>
<circle cx="2320.5" cy="2125.2" r="9.05" fill="#FBF7FF"/>
<circle cx="2382.6" cy="2125.2" r="12.15" fill="#EDE0FF"/>
<circle cx="395.9" cy="2292.1" r="13.40" fill="#FFEBE4"/>
<circle cx="458.0" cy="2292.1" r="13.05" fill="#FFB097"/>
<circle cx="520.1" cy="2292.1" r="21.40" fill="#FFB69E"/>
<circle cx="582.2" cy="2292.1" r="19.55" fill="#FFD9CC"/>
<circle cx="644.3" cy="2292.1" r="5.80" fill="#FFFDFD"/>
<circle cx="706.4" cy="2292.1" r="9.25" fill="#FFF7F4"/>
<circle cx="768.4" cy="2292.1" r="6.15" fill="#FFFDFD"/>
<circle cx="830.5" cy="2292.1" r="9.80" fill="#FFE8E0"/>
<circle cx="892.6" cy="2292.1" r="6.00" fill="#FBF7FF"/>
<circle cx="954.7" cy="2292.1" r="14.85" fill="#FFBAA3"/>
<circle cx="1016.8" cy="2292.1" r="19.75" fill="#FFE5DB"/>
<circle cx="1078.8" cy="2292.1" r="6.50" fill="#FCF9FF"/>
<circle cx="1140.9" cy="2292.1" r="8.35" fill="#FFE3D8"/>
<circle cx="1203.0" cy="2292.1" r="6.00" fill="#FFFDFD"/>
<circle cx="1265.1" cy="2292.1" r="17.95" fill="#FFE0D5"/>
<circle cx="1327.2" cy="2292.1" r="11.05" fill="#0000D2"/>
<circle cx="1389.3" cy="2292.1" r="7.45" fill="#FFFAF8"/>
<circle cx="1451.3" cy="2292.1" r="20.45" fill="#FFDED3"/>
<circle cx="1513.4" cy="2292.1" r="19.55" fill="#FFDCD0"/>
<circle cx="1575.5" cy="2292.1" r="10.70" fill="#FFBFAA"/>
<circle cx="1637.6" cy="2292.1" r="13.75" fill="#A87EFF"/>
<circle cx="1699.7" cy="2292.1" r="10.85" fill="#F9F5FF"/>
<circle cx="1761.7" cy="2292.1" r="22.45" fill="#AD84FF"/>
<circle cx="1823.8" cy="2292.1" r="6.35" fill="#FFEDE6"/>
<circle cx="1885.9" cy="2292.1" r="25.35" fill="#DAC1FF"/>
<circle cx="1948.0" cy="2292.1" r="14.15" fill="#0000DB"/>
<circle cx="2010.1" cy="2292.1" r="15.40" fill="#FFCBB9"/>
<circle cx="2072.1" cy="2292.1" r="16.10" fill="#C8A7FF"/>
<circle cx="2134.2" cy="2292.1" r="6.90" fill="#FFFAF8"/>
<circle cx="2196.3" cy="2292.1" r="8.15" fill="#F7F0FF"/>
<circle cx="2258.4" cy="2292.1" r="14.30" fill="#F0E4FF"/>
<circle cx="2320.5" cy="2292.1" r="13.05" fill="#FFDDD1"/>
<circle cx="2382.6" cy="2292.1" r="11.40" fill="#FFEBE3"/>
</g>
<g stroke="#000" stroke-width="4.44" fill="none">
<line x1="358.7" y1="22.9" x2="358.7" y2="2394.4"/>
<line x1="356.5" y1="2392.2" x2="2419.8" y2="2392.2"/>
</g>
<g stroke="#333" stroke-width="4.44">
<line x1="347.2" y1="123.0" x2="356.5" y2="123.0"/>
<line x1="347.2" y1="289.9" x2="356.5" y2="289.9"/>
<line x1="347.2" y1="456.7" x2="356.5" y2="456.7"/>
<line x1="347.2" y1="623.6" x2="356.5" y2="623.6"/>
<line x1="347.2" y1="790.4" x2="356.5" y2="790.4"/>
<line x1="347.2" y1="957.3" x2="356.5" y2="957.3"/>
<line x1="347.2" y1="1124.1" x2="356.5" y2="1124.1"/>
<line x1="347.2" y1="1291.0" x2="356.5" y2="1291.0"/>
<line x1="347.2" y1="1457.8" x2="356.5" y2="1457.8"/>
<line x1="347.2" y1="1624.7" x2="356.5" y2="1624.7"/>
<line x1="347.2" y1="1791.5" x2="356.5" y2="1791.5"/>
<line x1="347.2" y1="1958.4" x2="356.5" y2="1958.4"/>
<line x1="347.2" y1="2125.2" x2="356.5" y2="2125.2"/>
<line x1="347.2" y1="2292.1" x2="356.5" y2="2292.1"/>
<line x1="395.9" y1="2394.4" x2="395.9" y2="2403.7"/>
<line x1="458.0" y1="2394.4" x2="458.0" y2="2403.7"/>
<line x1="520.1" y1="2394.4" x2="520.1" y2="2403.7"/>
<line x1="582.2" y1="2394.4" x2="582.2" y2="2403.7"/>
<line x1="644.3" y1="2394.4" x2="644.3" y2="2403.7"/>
<line x1="706.4" y1="2394.4" x2="706.4" y2="2403.7"/>
<line x1="768.4" y1="2394.4" x2="768.4" y2="2403.7"/>
<line x1="830.5" y1="2394.4" x2="830.5" y2="2403.7"/>
<line x1="892.6" y1="2394.4" x2="892.6" y2="2403.7"/>
<line x1="954.7" y1="2394.4" x2="954.7" y2="2403.7"/>
<line x1="1016.8" y1="2394.4" x2="1016.8" y2="2403.7"/>
<line x1="1078.8" y1="2394.4" x2="1078.8" y2="2403.7"/>
<line x1="1140.9" y1="2394.4" x2="1140.9" y2="2403.7"/>
<line x1="1203.0" y1="2394.4" x2="1203.0" y2="2403.7"/>
<line x1="1265.1" y1="2394.4" x2="1265.1" y2="2403.7"/>
<line x1="1327.2" y1="2394.4" x2="1327.2" y2="2403.7"/>
<line x1="1389.3" y1="2394.4" x2="1389.3" y2="2403.7"/>
<line x1="1451.3" y1="2394.4" x2="1451.3" y2="2403.7"/>
<line x1="1513.4" y1="2394.4" x2="1513.4" y2="2403.7"/>
<line x1="1575.5" y1="2394.4" x2="1575.5" y2="2403.7"/>
<line x1="1637.6" y1="2394.4" x2="1637.6" y2="2403.7"/>
<line x1="1699.7" y1="2394.4" x2="1699.7" y2="2403.7"/>
<line x1="1761.7" y1="2394.4" x2="1761.7" y2="2403.7"/>
<line x1="1823.8" y1="2394.4" x2="1823.8" y2="2403.7"/>
<line x1="1885.9" y1="2394.4" x2="1885.9" y2="2403.7"/>
<line x1="1948.0" y1="2394.4" x2="1948.0" y2="2403.7"/>
<line x1="2010.1" y1="2394.4" x2="2010.1" y2="2403.7"/>
<line x1="2072.1" y1="2394.4" x2="2072.1" y2="2403.7"/>
<line x1="2134.2" y1="2394.4" x2="2134.2" y2="2403.7"/>
<line x1="2196.3" y1="2394.4" x2="2196.3" y2="2403.7"/>
<line x1="2258.4" y1="2394.4" x2="2258.4" y2="2403.7"/>
<line x1="2320.5" y1="2394.4" x2="2320.5" y2="2403.7"/>
<line x1="2382.6" y1="2394.4" x2="2382.6" y2="2403.7"/>
</g>
<g fill="#4D4D4D" font-size="36.67" text-anchor="end">
<text x="338" y="136.7">Pdgfb-Pdgfrb</text>
<text x="338" y="303.6">Jag2-Notch1</text>
<text x="338" y="470.4">Fgf1-Fgfr3</text>
<text x="338" y="637.3">Wnt7b-Lrp5</text>
<text x="338" y="804.1">Wnt7b-Fzd1</text>
<text x="338" y="971.0">Ctgf-Itgb2</text>
<text x="338" y="1137.8">Ctgf-Itgam</text>
<text x="338" y="1304.7">Sema4d-Plxnb2</text>
<text x="338" y="1471.5">Nrg2-Erbb3</text>
<text x="338" y="1638.4">Wnt7b-Fzd10</text>
<text x="338" y="1805.2">Omg-Lingo1</text>
<text x="338" y="1972.1">Bmp2-Acvr1</text>
<text x="338" y="2138.9">Dkk1-Lrp6</text>
<text x="338" y="2305.8">Ctgf-Lrp6</text>
</g>
<g fill="#4D4D4D" font-size="36.67" text-anchor="end">
<text transform="translate(422.5,2414) rotate(-90)">cell E--cell C</text>
<text transform="translate(484.6,2414) rotate(-90)">cell G--cell F</text>
<text transform="translate(546.7,2414) rotate(-90)">cell B--cell F</text>
<text transform="translate(608.8,2414) rotate(-90)">cell C--cell D</text>
<text transform="translate(670.9,2414) rotate(-90)">cell E--cell F</text>
<text transform="translate(733.0,2414) rotate(-90)">cell B--cell B</text>
<text transform="translate(795.0,2414) rotate(-90)">cell C--cell G</text>
<text transform="translate(857.1,2414) rotate(-90)">cell G--cell E</text>
<text transform="translate(919.2,2414) rotate(-90)">cell A--cell A</text>
<text transform="translate(981.3,2414) rotate(-90)">cell H--cell G</text>
<text transform="translate(1043.4,2414) rotate(-90)">cell D--cell A</text>
<text transform="translate(1105.4,2414) rotate(-90)">cell D--cell G</text>
<text transform="translate(1167.5,2414) rotate(-90)">cell D--cell F</text>
<text transform="translate(1229.6,2414) rotate(-90)">cell A--cell B</text>
<text transform="translate(1291.7,2414) rotate(-90)">cell A--cell D</text>
<text transform="translate(1353.8,2414) rotate(-90)">cell B--cell H</text>
<text transform="translate(1415.9,2414) rotate(-90)">cell G--cell B</text>
<text transform="translate(1477.9,2414) rotate(-90)">cell B--cell C</text>
<text transform="translate(1540.0,2414) rotate(-90)">cell E--cell E</text>
<text transform="translate(1602.1,2414) rotate(-90)">cell C--cell F</text>
<text transform="translate(1664.2,2414) rotate(-90)">cell F--cell D</text>
<text transform="translate(1726.3,2414) rotate(-90)">cell E--cell A</text>
<text transform="translate(1788.3,2414) rotate(-90)">cell A--cell G</text>
<text transform="translate(1850.4,2414) rotate(-90)">cell A--cell E</text>
<text transform="translate(1912.5,2414) rotate(-90)">cell E--cell B</text>
<text transform="translate(1974.6,2414) rotate(-90)">cell H--cell C</text>
<text transform="translate(2036.7,2414) rotate(-90)">cell F--cell C</text>
<text transform="translate(2098.7,2414) rotate(-90)">cell F--cell E</text>
<text transform="translate(2160.8,2414) rotate(-90)">cell H--cell B</text>
<text transform="translate(2222.9,2414) rotate(-90)">cell E--cell D</text>
<text transform="translate(2285.0,2414) rotate(-90)">cell G--cell A</text>
<text transform="translate(2347.1,2414) rotate(-90)">cell C--cell E</text>
<text transform="translate(2409.2,2414) rotate(-90)">cell F--cell A</text>
</g>
<g fill="#000" font-size="45.83">
<text x="1389.2" y="2666.8" text-anchor="middle">cell-cell</text>
<text transform="translate(55.9,1207.5) rotate(-90)" text-anchor="middle">ligand-receptor</text>
<text x="2488.5" y="775">log2fc</text>
<text x="2488.5" y="1291.1">pvalue</text>
</g>
<defs><linearGradient id="cb" x1="0" y1="1" x2="0" y2="0">
<stop offset="0.0000" stop-color="#000080"/>
<stop offset="0.0139" stop-color="#000085"/>
<stop offset="0.0278" stop-color="#00008A"/>
<stop offset="0.0417" stop-color="#00008F"/>
<stop offset="0.0556" stop-color="#000094"/>
<stop offset="0.0694" stop-color="#000099"/>
<stop offset="0.0833" stop-color="#00009E"/>
<stop offset="0.0972" stop-color="#0000A3"/>
<stop offset="0.1111" stop-color="#0000A9"/>
<stop offset="0.1250" stop-color="#0000AE"/>
<stop offset="0.1389" stop-color="#0000B3"/>
<stop offset="0.1528" stop-color="#0000B8"/>
<stop offset="0.1667" stop-color="#0000BD"/>
<stop offset="0.1806" stop-color="#0000C3"/>
<stop offset="0.1944" stop-color="#0000C8"/>
<stop offset="0.2083" stop-color="#0000CE"/>
<stop offset="0.2222" stop-color="#0000D3"/>
<stop offset="0.2361" stop-color="#0000D8"/>
<stop offset="0.2500" stop-color="#0000DE"/>
<stop offset="0.2639" stop-color="#0000E3"/>
<stop offset="0.2778" stop-color="#0000E9"/>
<stop offset="0.2917" stop-color="#0000EE"/>
<stop offset="0.3056" stop-color="#0000F4"/>
<stop offset="0.3194" stop-color="#0000F9"/>
<stop offset="0.3333" stop-color="#0000FF"/>
<stop offset="0.3472" stop-color="#3217FF"/>
<stop offset="0.3611" stop-color="#4926FF"/>
<stop offset="0.3750" stop-color="#5932FF"/>
<stop offset="0.3889" stop-color="#673DFF"/>
<stop offset="0.4028" stop-color="#7347FF"/>
<stop offset="0.4167" stop-color="#7E52FF"/>
<stop offset="0.4306" stop-color="#885BFF"/>
<stop offset="0.4444" stop-color="#9265FF"/>
<stop offset="0.4583" stop-color="#9B6FFF"/>
<stop offset="0.4722" stop-color="#A378FF"/>
<stop offset="0.4861" stop-color="#AB82FF"/>
<stop offset="0.5000" stop-color="#B38BFF"/>
<stop offset="0.5139" stop-color="#BA95FF"/>
<stop offset="0.5278" stop-color="#C19EFF"/>
<stop offset="0.5417" stop-color="#C8A8FF"/>
<stop offset="0.5556" stop-color="#CFB1FF"/>
<stop offset="0.5694" stop-color="#D6BBFF"/>
<stop offset="0.5833" stop-color="#DCC4FF"/>
<stop offset="0.5972" stop-color="#E2CEFF"/>
<stop offset="0.6111" stop-color="#E8D8FF"/>
<stop offset="0.6250" stop-color="#EEE2FF"/>
<stop offset="0.6389" stop-color="#F4EBFF"/>
<stop offset="0.6528" stop-color="#F9F5FF"/>
<stop offset="0.6667" stop-color="#FFFFFF"/>
<stop offset="0.6806" stop-color="#FFF7F4"/>
<stop offset="0.6944" stop-color="#FFEFE9"/>
<stop offset="0.7083" stop-color="#FFE7DE"/>
<stop offset="0.7222" stop-color="#FFDFD4"/>
<stop offset="0.7361" stop-color="#FFD7C9"/>
<stop offset="0.7500" stop-color="#FFCFBF"/>
<stop offset="0.7639" stop-color="#FFC7B4"/>
<stop offset="0.7778" stop-color="#FFBFAA"/>
<stop offset="0.7917" stop-color="#FFB7A0"/>
<stop offset="0.8056" stop-color="#FFAF95"/>
<stop offset="0.8194" stop-color="#FFA68B"/>
<stop offset="0.8333" stop-color="#FF9E81"/>
<stop offset="0.8472" stop-color="#FF9577"/>
<stop offset="0.8611" stop-color="#FF8D6D"/>
<stop offset="0.8750" stop-color="#FF8464"/>
<stop offset="0.8889" stop-color="#FF7B5A"/>
<stop offset="0.9028" stop-color="#FF7150"/>
<stop offset="0.9167" stop-color="#FF6846"/>
<stop offset="0.9306" stop-color="#FF5D3C"/>
<stop offset="0.9444" stop-color="#FF5232"/>
<stop offset="0.9583" stop-color="#FF4628"/>
<stop offset="0.9722" stop-color="#FF381D"/>
<stop offset="0.9861" stop-color="#FF2510"/>
<stop offset="1.0000" stop-color="#FF0000"/>
</linearGradient></defs>
<rect x="2488" y="802" width="72" height="360" fill="url(#cb)"/>
<g stroke="#fff" stroke-width="2.2">
<line x1="2488" y1="828.6" x2="2502.4" y2="828.6"/>
<line x1="2545.6" y1="828.6" x2="2560" y2="828.6"/>
<line x1="2488" y1="919.6" x2="2502.4" y2="919.6"/>
<line x1="2545.6" y1="919.6" x2="2560" y2="919.6"/>
<line x1="2488" y1="1010.5" x2="2502.4" y2="1010.5"/>
<line x1="2545.6" y1="1010.5" x2="2560" y2="1010.5"/>
<line x1="2488" y1="1101.5" x2="2502.4" y2="1101.5"/>
<line x1="2545.6" y1="1101.5" x2="2560" y2="1101.5"/>
</g>
<g fill="#000" font-size="36.67">
<text x="2583" y="841.8">2</text>
<text x="2583" y="932.8">0</text>
<text x="2583" y="1023.7">-2</text>
<text x="2583" y="1114.7">-4</text>
<circle cx="2524" cy="1355.0" r="24.85"/>
<text x="2583" y="1368.7">0.00</text>
<circle cx="2524" cy="1427.0" r="15.15"/>
<text x="2583" y="1440.7">0.25</text>
<circle cx="2524" cy="1499.0" r="10.85"/>
<text x="2583" y="1512.7">0.50</text>
<circle cx="2524" cy="1571.0" r="7.75"/>
<text x="2583" y="1584.7">0.75</text>
<circle cx="2524" cy="1643.0" r="5.05"/>
<text x="2583" y="1656.7">1.00</text>
</g>
</svg>
</body></html>
